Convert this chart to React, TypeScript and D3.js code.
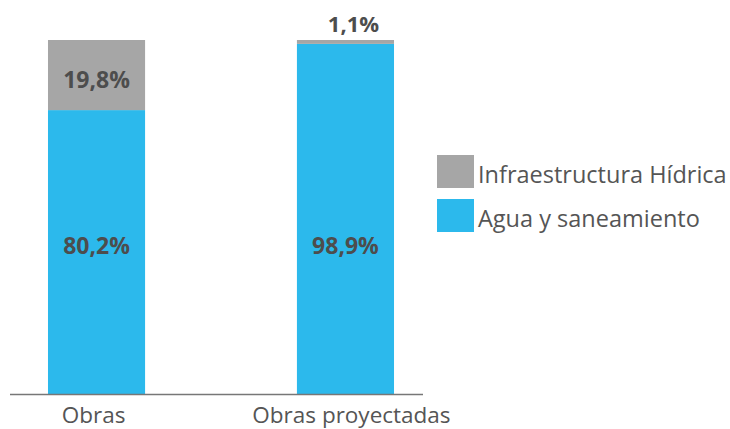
import React from "react";
import * as d3 from "d3";

const categories = ["Obras", "Obras proyectadas"];
const agua = [80.2, 98.9];
const infra = [19.8, 1.1];
const seriesNames = ["Infraestructura Hídrica", "Agua y saneamiento"];
const seriesColors = ["#a6a6a6", "#2cb9ec"];

const W = 730;
const H = 429;
const FONT = "'Open Sans', 'Noto Sans', sans-serif";

export default function App() {
  const x = d3.scaleBand().domain(categories).range([10, 432]).paddingInner(0.61).paddingOuter(0.1526);
  const y = d3.scaleLinear().domain([0, 100]).range([394, 40]);
  const fmt = (v: number) => v.toFixed(1).replace(".", ",") + "%";

  return (
    <svg width={W} height={H} style={{ position: "absolute", left: 0, top: 0 }} fontFamily={FONT}>
      {categories.map((c, i) => {
        const x0 = x(c)!;
        const bw = x.bandwidth();
        const yA = y(agua[i]);
        const yT = y(agua[i] + infra[i]);
        const small = y(0) - y(infra[i]) < 20;
        return (
          <g key={c}>
            <rect x={x0} y={yA} width={bw} height={y(0) - yA} fill={seriesColors[1]} />
            <rect x={x0} y={yT} width={bw} height={yA - yT} fill={seriesColors[0]} />
            <text x={x0 + bw / 2} y={y(0) - 149} textAnchor="middle" dominantBaseline="central"
              fontSize={23} fontWeight={700} fill="#4d4d4d">{fmt(agua[i])}</text>
            <text x={x0 + bw / 2 + (small ? 8 : 0)} y={small ? yT - 17 : (yT + yA) / 2 + 4} textAnchor="middle" dominantBaseline="central"
              fontSize={small ? 22 : 23} fontWeight={700} fill="#4d4d4d">{fmt(infra[i])}</text>
            <text x={x0 + bw / 2 + (i === 1 ? 6 : -3)} y={423} textAnchor="middle" fontSize={22.5} fill="#555">{c}</text>
          </g>
        );
      })}
      <line x1={10} x2={423} y1={394.5} y2={394.5} stroke="#777" strokeWidth={1.5} />
      {seriesNames.map((n, i) => (
        <g key={n} transform={`translate(437, ${155 + i * 44})`}>
          <rect width={37} height={33} fill={seriesColors[i]} />
          <text x={41} y={28} fontSize={23.5} fill="#555">{n}</text>
        </g>
      ))}
    </svg>
  );
}
